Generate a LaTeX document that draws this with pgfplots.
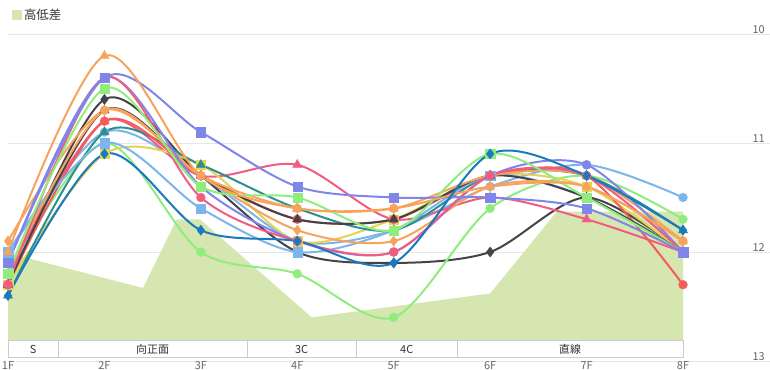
\documentclass[border=0pt]{standalone}
\usepackage{fontspec}
\setmainfont{Noto Sans CJK JP}
\usepackage{pgfplots}
\pgfplotsset{compat=1.18}
\definecolor{areagreen}{RGB}{214,230,176}
\definecolor{gridgrey}{RGB}{230,230,230}
\definecolor{bandgrey}{RGB}{204,204,204}
\definecolor{tgrey}{RGB}{102,102,102}
\definecolor{tdark}{RGB}{51,51,51}
\definecolor{cblue}{RGB}{26,122,192}
\definecolor{cdark}{RGB}{67,67,72}
\definecolor{cgreen}{RGB}{144,237,125}
\definecolor{corange}{RGB}{247,163,92}
\definecolor{cpurple}{RGB}{128,133,233}
\definecolor{cpink}{RGB}{241,92,128}
\definecolor{cyellow}{RGB}{228,211,84}
\definecolor{cteal}{RGB}{43,144,143}
\definecolor{cred}{RGB}{244,91,91}
\definecolor{clblue}{RGB}{124,181,236}
\pgfplotsset{
  ser/.style={color=#1, line width=2bp, smooth, tension=0.5, forget plot,
    mark options={solid, fill=#1, draw=#1, line width=0.2bp}},
  mc/.style={mark=*, mark size=4.5bp},
  ms/.style={mark=square*, mark size=4.6bp},
  mt/.style={mark=triangle*, mark size=5.5bp},
  md/.style={mark=diamond*, mark size=5.2bp},
}
\begin{document}
\begin{tikzpicture}
\begin{axis}[
  at={(0,0)}, anchor=south west,
  scale only axis, width=762bp, height=327bp,
  xmin=1, xmax=8.902, ymin=10, ymax=13, y dir=reverse,
  clip=false,
  axis line style={draw=none},
  major tick length=0pt,
  xtick={1,2,3,4,5,6,7,8},
  xticklabels={1F,2F,3F,4F,5F,6F,7F,8F},
  ytick={10,11,12,13},
  ymajorgrids, grid style={draw=gridgrey, line width=1bp},
  yticklabel pos=right,
  /pgf/number format/assume math mode=true,
  yticklabel style={anchor=south east, xshift=-5bp, yshift=0.5bp, inner sep=0pt, text=tgrey, font=\fontsize{11}{13}\selectfont},
  xticklabel style={anchor=north, inner sep=0pt, yshift=0bp, text=tgrey, font=\fontsize{11}{13}\selectfont},
  legend style={at={(0.005,1.058)}, anchor=west, draw=none, fill=none, inner sep=0pt,
    font=\fontsize{12.5}{14}\selectfont, text=tdark},
  legend cell align=left,
]
\addplot[fill=areagreen, draw=none,
  legend image code/.code={\fill[areagreen] (0bp,-5bp) rectangle (10bp,5bp);}]
  coordinates {(1,12.01) (2.40,12.33) (2.75,11.70) (2.99,11.70) (4.15,12.60) (6.0,12.38) (6.69,11.63) (8,11.63) (8,12.81) (1,12.81)} -- cycle;
\addlegendentry{高低差}
\draw[fill=white, draw=bandgrey, line width=1bp] (axis cs:1,12.81) rectangle (axis cs:8,12.97);
\draw[bandgrey, line width=1bp] (axis cs:1.52,12.81) -- (axis cs:1.52,12.97);
\draw[bandgrey, line width=1bp] (axis cs:3.48,12.81) -- (axis cs:3.48,12.97);
\draw[bandgrey, line width=1bp] (axis cs:4.61,12.81) -- (axis cs:4.61,12.97);
\draw[bandgrey, line width=1bp] (axis cs:5.66,12.81) -- (axis cs:5.66,12.97);
\node[font=\fontsize{11}{13}\selectfont, text=tdark] at (axis cs:1.26,12.89) {S};
\node[font=\fontsize{11}{13}\selectfont, text=tdark] at (axis cs:2.50,12.89) {向正面};
\node[font=\fontsize{11}{13}\selectfont, text=tdark] at (axis cs:4.045,12.89) {3C};
\node[font=\fontsize{11}{13}\selectfont, text=tdark] at (axis cs:5.135,12.89) {4C};
\node[font=\fontsize{11}{13}\selectfont, text=tdark] at (axis cs:6.83,12.89) {直線};
% light blue circle
\addplot[ser=clblue, mc] coordinates {(1,12.0) (2,10.9) (3,11.3) (4,11.9) (5,11.8) (6,11.4) (7,11.2) (8,11.5)};
% dark grey diamond
\addplot[ser=cdark, md] coordinates {(1,12.3) (2,10.6) (3,11.3) (4,12.0) (5,12.1) (6,12.0) (7,11.5) (8,12.0)};
% green circle
\addplot[ser=cgreen, mc] coordinates {(1,12.2) (2,11.0) (3,12.0) (4,12.2) (5,12.6) (6,11.6) (7,11.3) (8,11.7)};
% pink triangle
\addplot[ser=cpink, mt] coordinates {(1,12.2) (2,10.8) (3,11.3) (4,11.2) (5,11.7) (6,11.5) (7,11.7) (8,12.0)};
% yellow square
\addplot[ser=cyellow, ms] coordinates {(1,12.3) (2,11.1) (3,11.2) (4,11.9) (5,11.7) (6,11.3) (7,11.4) (8,12.0)};
% teal triangle
\addplot[ser=cteal, mt] coordinates {(1,12.4) (2,10.9) (3,11.2) (4,11.6) (5,11.8) (6,11.3) (7,11.3) (8,11.8)};
% red circle
\addplot[ser=cred, mc] coordinates {(1,12.3) (2,10.8) (3,11.3) (4,11.7) (5,11.7) (6,11.3) (7,11.3) (8,12.3)};
% light blue square
\addplot[ser=clblue, ms] coordinates {(1,12.0) (2,11.0) (3,11.6) (4,12.0) (5,11.8) (6,11.3) (7,11.5) (8,12.0)};
% dark grey triangle
\addplot[ser=cdark, mt] coordinates {(1,12.3) (2,10.7) (3,11.3) (4,11.7) (5,11.7) (6,11.3) (7,11.5) (8,12.0)};
% orange circle
\addplot[ser=corange, mc] coordinates {(1,12.2) (2,10.7) (3,11.3) (4,11.6) (5,11.6) (6,11.3) (7,11.3) (8,11.9)};
% orange diamond
\addplot[ser=corange, md] coordinates {(1,11.9) (2,10.7) (3,11.3) (4,11.8) (5,11.9) (6,11.4) (7,11.4) (8,11.9)};
% purple circle
\addplot[ser=cpurple, mc] coordinates {(1,12.1) (2,10.4) (3,11.4) (4,11.9) (5,12.0) (6,11.3) (7,11.2) (8,12.0)};
% pink circle
\addplot[ser=cpink, mc] coordinates {(1,12.3) (2,10.4) (3,11.5) (4,11.9) (5,12.0) (6,11.3) (7,11.3) (8,12.0)};
% green square
\addplot[ser=cgreen, ms] coordinates {(1,12.2) (2,10.5) (3,11.4) (4,11.5) (5,11.8) (6,11.1) (7,11.5) (8,12.0)};
% purple square
\addplot[ser=cpurple, ms] coordinates {(1,12.1) (2,10.4) (3,10.9) (4,11.4) (5,11.5) (6,11.5) (7,11.6) (8,12.0)};
% orange triangle
\addplot[ser=corange, mt] coordinates {(1,12.0) (2,10.2) (3,11.3) (4,11.6) (5,11.6) (6,11.4) (7,11.4) (8,11.9)};
% blue diamond
\addplot[ser=cblue, md] coordinates {(1,12.4) (2,11.1) (3,11.8) (4,11.9) (5,12.1) (6,11.1) (7,11.3) (8,11.8)};
\end{axis}
\pgfresetboundingbox
\path (-8bp,-9bp) rectangle (762bp,361bp);
\end{tikzpicture}
\end{document}
